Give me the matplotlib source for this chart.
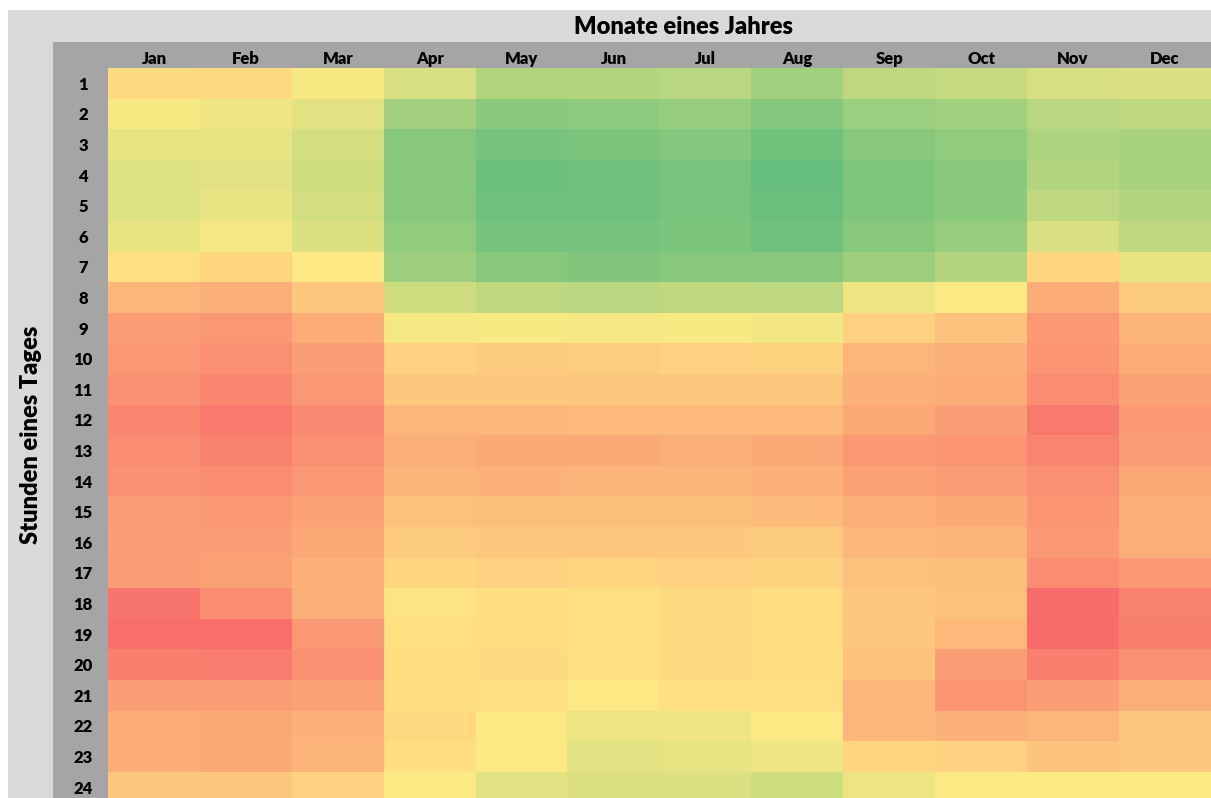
import numpy as np
import matplotlib.pyplot as plt
from matplotlib.colors import LinearSegmentedColormap
from matplotlib.patches import Rectangle

plt.rcParams['font.family'] = ['Lato', 'DejaVu Sans']

# Monate (Spalten) und Stunden (Zeilen)
months = ['Jan', 'Feb', 'Mar', 'Apr', 'May', 'Jun',
          'Jul', 'Aug', 'Sep', 'Oct', 'Nov', 'Dec']
hours = [str(h) for h in range(1, 25)]

# Werte je Stunde (0 = gruen, 50 = gelb, 100 = rot)
h01 = [56, 57, 48, 37, 25, 26, 28, 20, 29, 32, 37, 38]
h02 = [48, 45, 41, 21, 13, 14, 17, 11, 18, 20, 28, 29]
h03 = [42, 42, 36, 12, 6, 8, 11, 5, 12, 15, 24, 23]
h04 = [40, 41, 35, 12, 3, 4, 7, 1, 9, 13, 26, 23]
h05 = [40, 43, 36, 12, 4, 4, 7, 2, 9, 13, 30, 26]
h06 = [43, 47, 39, 15, 6, 6, 8, 4, 12, 17, 38, 30]
h07 = [54, 58, 51, 19, 12, 10, 12, 12, 19, 26, 58, 43]
h08 = [70, 73, 63, 35, 30, 28, 30, 29, 44, 49, 74, 62]
h09 = [80, 82, 74, 47, 48, 47, 48, 46, 60, 66, 81, 71]
h10 = [82, 85, 79, 60, 62, 61, 60, 59, 70, 73, 83, 74]
h11 = [84, 88, 82, 63, 63, 64, 63, 63, 72, 74, 86, 78]
h12 = [88, 93, 87, 70, 70, 69, 69, 69, 76, 79, 93, 81]
h13 = [86, 90, 85, 73, 75, 75, 73, 75, 81, 83, 89, 80]
h14 = [84, 86, 82, 71, 72, 71, 71, 72, 78, 80, 85, 76]
h15 = [80, 81, 78, 66, 67, 67, 67, 68, 73, 75, 83, 73]
h16 = [79, 79, 75, 62, 63, 63, 63, 62, 70, 71, 81, 73]
h17 = [80, 78, 72, 58, 60, 58, 60, 59, 66, 67, 86, 81]
h18 = [95, 86, 73, 53, 55, 54, 56, 55, 63, 66, 99, 90]
h19 = [98, 98, 82, 54, 55, 54, 57, 55, 63, 69, 99, 91]
h20 = [91, 92, 85, 55, 56, 54, 56, 55, 65, 79, 91, 84]
h21 = [79, 80, 78, 55, 54, 51, 54, 54, 70, 83, 79, 73]
h22 = [74, 75, 72, 57, 49, 44, 45, 49, 70, 72, 70, 64]
h23 = [74, 75, 71, 55, 49, 41, 42, 45, 58, 60, 65, 63]
h24 = [64, 64, 60, 49, 41, 39, 39, 35, 44, 49, 49, 49]

values = np.array([h01, h02, h03, h04, h05, h06, h07, h08, h09, h10, h11, h12,
                   h13, h14, h15, h16, h17, h18, h19, h20, h21, h22, h23, h24])

# Excel 3-Farben-Skala
cmap = LinearSegmentedColormap.from_list('excel_gyr', ['#63BE7B', '#FFEB84', '#F8696B'])

W, H = 1211, 798
fig = plt.figure(figsize=(W / 100, H / 100), dpi=100)

# Hintergrund mit grauen Baendern (Pixelkoordinaten)
bg = fig.add_axes([0, 0, 1, 1])
bg.set_xlim(0, W)
bg.set_ylim(H, 0)
bg.axis('off')
bg.add_patch(Rectangle((8, 10), W - 8, H - 10, color='#D9D9D9', lw=0))
bg.add_patch(Rectangle((53, 42), W - 53, 26, color='#A5A5A5', lw=0))
bg.add_patch(Rectangle((53, 68), 55, H - 68, color='#A5A5A5', lw=0))
bg.text(683, 27, 'Monate eines Jahres', ha='center', va='center',
        fontsize=17, fontweight='heavy', color='black')
bg.text(31, 435, 'Stunden eines Tages', ha='center', va='center',
        rotation=90, fontsize=17, fontweight='heavy', color='black')

# Heatmap
left = 108 / W
top = (H - 68) / H
ax = fig.add_axes([left, 0, 1 - left, top])
ax.imshow(values, cmap=cmap, vmin=0, vmax=100, aspect='auto',
          interpolation='nearest')
row_h = 30.6
n_vis = (H - 68) / row_h
ax.set_xlim(-0.5, len(months) - 0.5)
ax.set_ylim(-0.5 + n_vis, -0.5)

ax.xaxis.tick_top()
ax.set_xticks(range(len(months)))
ax.set_xticklabels(months, fontsize=12, fontweight='heavy')
ax.set_yticks(range(len(hours)))
ax.set_yticklabels(hours, fontsize=12, fontweight='heavy', ha='center')
ax.tick_params(axis='x', length=0, pad=1)
ax.tick_params(axis='y', length=0, pad=18)
for s in ax.spines.values():
    s.set_visible(False)

fig.savefig('out.png', dpi=100, facecolor='white')
